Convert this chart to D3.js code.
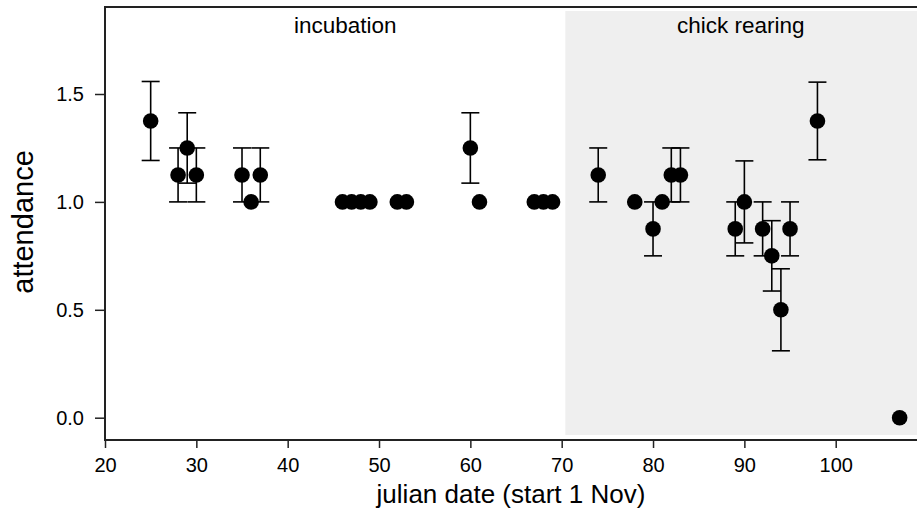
<!DOCTYPE html>
<html>
<head>
<meta charset="utf-8">
<script src="https://cdn.jsdelivr.net/npm/d3@7"></script>
<style>
  body { margin: 0; background: #fff; }
  text { font-family: "Liberation Sans", Arial, sans-serif; fill: #000; }
</style>
</head>
<body>
<div id="graph"></div>
<script>
// julian day, mean attendance, error (half-width, 0 = no bar)
var days = [25, 28, 29, 30, 35, 36, 37, 46, 47, 48, 49, 52, 53, 60, 61, 67, 68, 69,
            74, 78, 80, 81, 82, 83, 89, 90, 92, 93, 94, 95, 98, 107];
var attendance = [1.375, 1.125, 1.25, 1.125, 1.125, 1.0, 1.125, 1, 1, 1, 1, 1, 1, 1.25, 1, 1, 1, 1,
                  1.125, 1.0, 0.875, 1.0, 1.125, 1.125, 0.875, 1.0, 0.875, 0.75, 0.5, 0.875, 1.375, 0];
var errs = [0.183, 0.125, 0.163, 0.125, 0.125, 0, 0.125, 0, 0, 0, 0, 0, 0, 0.163, 0, 0, 0, 0,
            0.125, 0, 0.125, 0, 0.125, 0.125, 0.125, 0.19, 0.125, 0.163, 0.19, 0.125, 0.18, 0];
var xTicks = [20, 30, 40, 50, 60, 70, 80, 90, 100];
var yTicks = [0, 0.5, 1.0, 1.5];
var phaseNames = ["incubation", "chick rearing"];
var phaseLabelX = [46.3, 89.6];
var rearingStart = 70.4;

window.onload = start;

function start() {
    var width = 917, height = 513;
    var svg = d3.select('#graph').append('svg')
        .attr('width', width)
        .attr('height', height);

    var x = d3.scaleLinear().domain([20, 108.9]).range([105, 917]);
    var y = d3.scaleLinear().domain([0, 1.5]).range([417.7, 94]);

    var top = 7, axisY = 440;

    // chick rearing shading
    svg.append('rect')
        .attr('x', x(rearingStart))
        .attr('y', 11)
        .attr('width', width - x(rearingStart))
        .attr('height', 435 - 11)
        .attr('fill', '#efefef');

    // frame top + left
    svg.append('line').attr('x1', 105).attr('x2', width).attr('y1', top).attr('y2', top)
        .attr('stroke', '#222').attr('stroke-width', 2);

    var yAxis = d3.axisLeft(y).tickValues(yTicks).tickFormat(d3.format('.1f')).tickSize(10).tickPadding(11);
    var gy = svg.append('g').attr('transform', 'translate(105,0)').call(yAxis);
    gy.select('.domain').remove();
    gy.append('line').attr('x1', 0).attr('x2', 0).attr('y1', top - 1).attr('y2', axisY + 1)
        .attr('stroke', '#222').attr('stroke-width', 2);

    var xAxis = d3.axisBottom(x).tickValues(xTicks).tickSize(8).tickPadding(10);
    var gx = svg.append('g').attr('transform', 'translate(0,' + axisY + ')').call(xAxis);
    gx.select('.domain').remove();
    gx.append('line').attr('x1', 104).attr('x2', width).attr('y1', 0).attr('y2', 0)
        .attr('stroke', '#222').attr('stroke-width', 2);

    [gx, gy].forEach(function(g) {
        g.selectAll('.tick line').attr('stroke', '#222').attr('stroke-width', 1.5);
        g.selectAll('.tick text').style('font-size', '20px').style('font-family', '"Liberation Sans", Arial, sans-serif');
    });

    // phase labels
    svg.selectAll('.phase').data(phaseNames).enter().append('text')
        .attr('x', function(d, i) { return x(phaseLabelX[i]); })
        .attr('y', 33)
        .attr('text-anchor', 'middle')
        .style('font-size', '22.5px')
        .text(function(d) { return d; });

    var data = days.map(function(d, i) { return {day: d, val: attendance[i], err: errs[i]}; });
    var withErr = data.filter(function(d) { return d.err > 0; });

    var eb = svg.append('g').attr('stroke', '#000').attr('stroke-width', 1.6);
    eb.selectAll('.v').data(withErr).enter().append('line')
        .attr('x1', function(d) { return x(d.day); })
        .attr('x2', function(d) { return x(d.day); })
        .attr('y1', function(d) { return y(d.val + d.err); })
        .attr('y2', function(d) { return y(d.val - d.err); });
    [1, -1].forEach(function(s) {
        eb.selectAll('.c' + s).data(withErr).enter().append('line')
            .attr('x1', function(d) { return x(d.day) - 9; })
            .attr('x2', function(d) { return x(d.day) + 9; })
            .attr('y1', function(d) { return y(d.val + s * d.err); })
            .attr('y2', function(d) { return y(d.val + s * d.err); });
    });

    svg.selectAll('.pt').data(data).enter().append('circle')
        .attr('cx', function(d) { return x(d.day); })
        .attr('cy', function(d) { return y(d.val); })
        .attr('r', 7.8)
        .attr('fill', '#000');

    // axis titles
    svg.append('text')
        .attr('x', 511).attr('y', 503)
        .attr('text-anchor', 'middle')
        .style('font-size', '26px')
        .text('julian date (start 1 Nov)');
    svg.append('text')
        .attr('transform', 'translate(33,' + 222 + ') rotate(-90)')
        .attr('text-anchor', 'middle')
        .style('font-size', '29px')
        .text('attendance');
}
</script>
</body>
</html>
